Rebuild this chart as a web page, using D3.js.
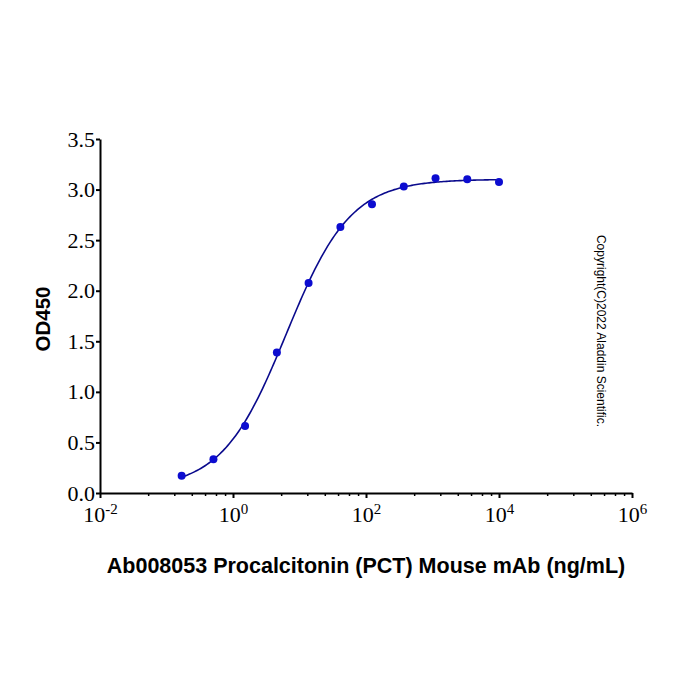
<!DOCTYPE html>
<html>
<head>
<meta charset="utf-8">
<script src="https://cdn.jsdelivr.net/npm/d3@7"></script>
<style>
  body { margin: 0; background: #fff; }
</style>
</head>
<body>
<div id="chart"></div>
<script>
// dilution series (ng/mL) and measured OD450
const conc = [0.169, 0.508, 1.52, 4.57, 13.7, 41.2, 123, 370, 1111, 3333, 10000];
const od = [0.171, 0.333, 0.663, 1.39, 2.077, 2.63, 2.856, 3.03, 3.113, 3.103, 3.076];

const xMajor = [1e-2, 1e0, 1e2, 1e4, 1e6];
const xMajorExp = ["-2", "0", "2", "4", "6"];
// minor ticks sit at these multiples of each labelled major tick
const minorMult = [5.3, 13.1, 24, 38, 55.5, 76];
const yTicks = [0, 0.5, 1.0, 1.5, 2.0, 2.5, 3.0, 3.5];

const xTitle = "Ab008053 Procalcitonin (PCT) Mouse mAb (ng/mL)";
const yTitle = "OD450";
const copyright = "Copyright(C)2022 Aladdin Scientific.";

const W = 700, H = 700;
const plotL = 100, plotR = 632, plotT = 139, plotB = 493;

const svg = d3.select("#chart").append("svg")
    .attr("width", W)
    .attr("height", H);

const x = d3.scaleLog().domain([1e-2, 1e6]).range([plotL, plotR]);
const y = d3.scaleLinear().domain([0, 3.5]).range([plotB, plotT]);

function model(p, l) {
    return p[0] + (p[1] - p[0]) / (1 + Math.pow(10, (p[2] - l) * p[3]));
}

// 4 parameter logistic fit (Nelder-Mead on squared error)
function fit4pl(xs, ys) {
    const lx = xs.map(Math.log10);
    const sse = p => d3.sum(lx, (l, i) => (model(p, l) - ys[i]) ** 2);
    let s = [
        [0.1, 3.1, 0.8, 1.0],
        [0.2, 3.1, 0.8, 1.0],
        [0.1, 3.2, 0.8, 1.0],
        [0.1, 3.1, 1.0, 1.0],
        [0.1, 3.1, 0.8, 1.2]
    ];
    const n = 4;
    for (let it = 0; it < 3000; it++) {
        s.sort((a, b) => sse(a) - sse(b));
        const c = d3.range(n).map(j => d3.mean(s.slice(0, n), p => p[j]));
        const w = s[n];
        const r = c.map((v, j) => v + (v - w[j]));
        if (sse(r) < sse(s[0])) {
            const e = c.map((v, j) => v + 2 * (v - w[j]));
            s[n] = sse(e) < sse(r) ? e : r;
        } else if (sse(r) < sse(s[n - 1])) {
            s[n] = r;
        } else {
            const k = c.map((v, j) => v + 0.5 * (w[j] - v));
            if (sse(k) < sse(w)) s[n] = k;
            else s = s.map(p => p.map((v, j) => s[0][j] + 0.5 * (v - s[0][j])));
        }
    }
    s.sort((a, b) => sse(a) - sse(b));
    return s[0];
}

const params = fit4pl(conc, od);
const l0 = Math.log10(d3.min(conc)), l1 = Math.log10(d3.max(conc));
const curve = d3.range(0, 201).map(i => {
    const l = l0 + (l1 - l0) * i / 200;
    return [Math.pow(10, l), model(params, l)];
});

// minor x ticks
const minorVals = [];
xMajor.slice(0, -1).forEach(m => minorMult.forEach(k => minorVals.push(m * k)));

svg.append("g")
    .attr("transform", `translate(0,${plotB})`)
    .call(d3.axisBottom(x).tickValues(minorVals).tickSize(3).tickSizeOuter(0).tickFormat(""))
    .call(g => g.select(".domain").remove())
    .selectAll("line").attr("stroke-width", 1.5);

// major x axis
const xAx = svg.append("g")
    .attr("transform", `translate(0,${plotB})`)
    .call(d3.axisBottom(x).tickValues(xMajor).tickSize(5).tickSizeOuter(0).tickFormat(""));
xAx.select(".domain").attr("stroke-width", 2);
xAx.selectAll("line").attr("stroke-width", 2);

xAx.selectAll(".tick").append("text")
    .attr("fill", "#000")
    .attr("y", 29)
    .attr("text-anchor", "middle")
    .style("font-family", "'Liberation Serif', 'Times New Roman', serif")
    .style("font-size", "22px")
    .each(function(d, i) {
        const t = d3.select(this);
        t.append("tspan").text("10");
        t.append("tspan").attr("dy", -8).style("font-size", "15px").text(xMajorExp[i]);
    });

// y axis
const yAx = svg.append("g")
    .attr("transform", `translate(${plotL},0)`)
    .call(d3.axisLeft(y).tickValues(yTicks).tickSize(4).tickSizeOuter(0).tickFormat(d3.format(".1f")));
yAx.select(".domain").attr("stroke-width", 2);
yAx.selectAll("line").attr("stroke-width", 2);
yAx.selectAll("text")
    .attr("x", -5)
    .attr("fill", "#000")
    .style("font-family", "'Liberation Serif', 'Times New Roman', serif")
    .style("font-size", "22px");

// fitted curve
svg.append("path")
    .datum(curve)
    .attr("fill", "none")
    .attr("stroke", "#0a0a8c")
    .attr("stroke-width", 1.6)
    .attr("d", d3.line().x(d => x(d[0])).y(d => y(d[1])));

// data points
svg.selectAll(".pt")
    .data(conc)
    .join("circle")
    .attr("class", "pt")
    .attr("cx", d => x(d))
    .attr("cy", (d, i) => y(od[i]))
    .attr("r", 4)
    .attr("fill", "#0c0cd0");

// axis titles
svg.append("text")
    .attr("x", (plotL + plotR) / 2)
    .attr("y", 573)
    .attr("text-anchor", "middle")
    .style("font-family", "'Liberation Sans', Arial, sans-serif")
    .style("font-weight", "bold")
    .style("font-size", "21.5px")
    .text(xTitle);

svg.append("text")
    .attr("transform", `translate(50,${(plotT + plotB) / 2 + 3}) rotate(-90)`)
    .attr("text-anchor", "middle")
    .style("font-family", "'Liberation Sans', Arial, sans-serif")
    .style("font-weight", "bold")
    .style("font-size", "20.5px")
    .text(yTitle);

svg.append("text")
    .attr("transform", "translate(597,331) rotate(90)")
    .attr("text-anchor", "middle")
    .style("font-family", "'Liberation Sans', Arial, sans-serif")
    .style("font-size", "12px")
    .text(copyright);
</script>
</body>
</html>
